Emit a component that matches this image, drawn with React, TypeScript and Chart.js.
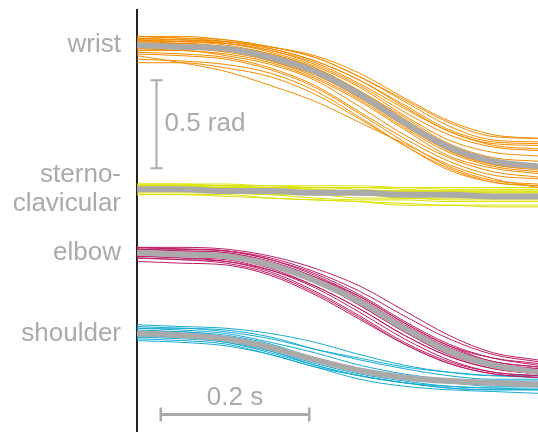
import React, { useEffect, useRef } from "react";
import { Chart, registerables } from "chart.js";

Chart.register(...registerables);

// Sample times (s) shared by every trial
const TIME = [0, 0.06, 0.12, 0.18, 0.24, 0.3, 0.36, 0.42, 0.48, 0.54];

// Joint names on the vertical axis and the angle offset (rad) each joint is drawn at
const JOINT_LABELS: (string | string[])[] = ["wrist", ["sterno-", "clavicular"], "elbow", "shoulder"];
const JOINT_OFFSETS = [0, -0.82, -1.18, -1.64];

// Joint angle change (rad) for each trial
const WRIST_TRIALS = [
  [0.05, 0.05, 0.03, -0.01, -0.07, -0.18, -0.32, -0.46, -0.54, -0.55],
  [0.05, 0.04, 0.02, -0.02, -0.09, -0.2, -0.34, -0.48, -0.55, -0.56],
  [0.04, 0.03, 0.02, -0.02, -0.09, -0.2, -0.35, -0.49, -0.56, -0.57],
  [0.03, 0.03, 0.01, -0.03, -0.11, -0.23, -0.38, -0.51, -0.58, -0.6],
  [0.03, 0.02, 0.01, -0.04, -0.12, -0.24, -0.4, -0.54, -0.61, -0.63],
  [0.02, 0.02, 0, -0.05, -0.13, -0.26, -0.41, -0.56, -0.64, -0.66],
  [0.02, 0.01, -0.01, -0.05, -0.13, -0.26, -0.42, -0.57, -0.65, -0.68],
  [0.01, 0.01, -0.01, -0.06, -0.14, -0.27, -0.43, -0.57, -0.66, -0.69],
  [0.01, 0, -0.02, -0.06, -0.15, -0.28, -0.44, -0.59, -0.67, -0.7],
  [0.01, 0.01, -0.02, -0.07, -0.16, -0.3, -0.45, -0.6, -0.68, -0.7],
  [-0.01, -0.01, -0.03, -0.07, -0.15, -0.27, -0.43, -0.57, -0.65, -0.68],
  [-0.01, -0.02, -0.03, -0.09, -0.17, -0.3, -0.46, -0.6, -0.68, -0.71],
  [-0.02, -0.03, -0.05, -0.1, -0.19, -0.32, -0.48, -0.63, -0.7, -0.73],
  [-0.03, -0.03, -0.06, -0.11, -0.2, -0.35, -0.51, -0.64, -0.72, -0.75],
  [-0.04, -0.05, -0.07, -0.13, -0.23, -0.38, -0.53, -0.66, -0.74, -0.76],
  [-0.05, -0.06, -0.08, -0.14, -0.24, -0.39, -0.55, -0.69, -0.77, -0.79],
  [-0.06, -0.1, -0.15, -0.23, -0.32, -0.44, -0.56, -0.68, -0.76, -0.81],
  [-0.08, -0.09, -0.11, -0.16, -0.26, -0.41, -0.57, -0.7, -0.78, -0.8],
  [-0.1, -0.1, -0.13, -0.18, -0.28, -0.42, -0.57, -0.71, -0.78, -0.8],
  [0.05, 0.04, 0.03, -0.01, -0.06, -0.16, -0.3, -0.43, -0.51, -0.53],
  [0.04, 0.03, 0.02, -0.01, -0.07, -0.18, -0.31, -0.44, -0.52, -0.53],
  [0.03, 0.02, 0.01, -0.03, -0.1, -0.22, -0.36, -0.49, -0.57, -0.59],
  [0, -0.01, -0.02, -0.07, -0.14, -0.27, -0.43, -0.58, -0.66, -0.69],
  [-0.02, -0.02, -0.04, -0.09, -0.18, -0.31, -0.47, -0.61, -0.69, -0.72],
];
const WRIST_MEAN = [0, -0.01, -0.02, -0.07, -0.15, -0.28, -0.44, -0.58, -0.66, -0.69];

const STERNO_TRIALS = [
  [0.03, 0.03, 0.03, 0.02, 0.02, 0.02, 0.01, 0.01, 0.01, 0.01],
  [0.03, 0.03, 0.02, 0.02, 0.01, 0.01, 0, -0.01, -0.01, -0.01],
  [0.02, 0.02, 0.02, 0.01, 0.01, 0, -0.01, -0.01, -0.02, -0.02],
  [0.02, 0.02, 0.01, 0.01, 0, -0.01, -0.01, -0.02, -0.02, -0.02],
  [0.01, 0.01, 0.01, 0, -0.01, -0.01, -0.02, -0.02, -0.03, -0.03],
  [0.01, 0.01, 0, -0.01, -0.01, -0.02, -0.02, -0.03, -0.03, -0.03],
  [0, 0, -0.01, -0.01, -0.02, -0.03, -0.03, -0.04, -0.05, -0.05],
  [-0.01, -0.01, -0.01, -0.02, -0.03, -0.03, -0.05, -0.05, -0.05, -0.05],
  [-0.01, -0.01, -0.02, -0.03, -0.03, -0.05, -0.05, -0.06, -0.06, -0.06],
  [-0.02, -0.02, -0.02, -0.03, -0.05, -0.06, -0.06, -0.07, -0.07, -0.07],
  [-0.03, -0.03, -0.03, -0.05, -0.06, -0.07, -0.08, -0.09, -0.09, -0.09],
  [-0.03, -0.03, -0.04, -0.05, -0.06, -0.07, -0.09, -0.09, -0.1, -0.1],
  [0.01, 0.01, 0.01, 0.01, 0, -0.01, -0.01, -0.01, -0.01, -0.01],
  [0.02, 0.02, 0.02, 0.01, 0.01, 0.01, 0.01, 0, 0, 0],
];
const STERNO_MEAN = [0, 0, -0.01, -0.01, -0.02, -0.02, -0.03, -0.03, -0.04, -0.04];

const ELBOW_TRIALS = [
  [0.03, 0.03, 0.02, -0.02, -0.09, -0.19, -0.33, -0.47, -0.57, -0.61],
  [0.03, 0.02, 0.01, -0.03, -0.11, -0.22, -0.36, -0.49, -0.58, -0.62],
  [0.02, 0.02, 0.01, -0.04, -0.12, -0.24, -0.39, -0.52, -0.6, -0.64],
  [0.02, 0.01, 0, -0.05, -0.14, -0.26, -0.41, -0.54, -0.62, -0.65],
  [0.01, 0, -0.01, -0.06, -0.15, -0.27, -0.42, -0.55, -0.63, -0.66],
  [0.01, 0, -0.01, -0.07, -0.16, -0.29, -0.44, -0.57, -0.65, -0.68],
  [-0.01, -0.02, -0.03, -0.08, -0.17, -0.3, -0.45, -0.58, -0.65, -0.68],
  [-0.01, -0.02, -0.03, -0.09, -0.19, -0.32, -0.47, -0.59, -0.66, -0.69],
  [-0.02, -0.03, -0.04, -0.1, -0.2, -0.34, -0.49, -0.61, -0.68, -0.7],
  [-0.02, -0.03, -0.05, -0.11, -0.22, -0.36, -0.51, -0.62, -0.68, -0.7],
  [-0.03, -0.04, -0.06, -0.12, -0.23, -0.37, -0.52, -0.63, -0.69, -0.71],
  [-0.05, -0.06, -0.07, -0.13, -0.24, -0.38, -0.52, -0.63, -0.69, -0.71],
  [0.02, 0.01, 0, -0.06, -0.16, -0.3, -0.45, -0.57, -0.64, -0.66],
  [0, -0.01, -0.02, -0.06, -0.14, -0.25, -0.4, -0.53, -0.62, -0.65],
  [-0.03, -0.04, -0.05, -0.1, -0.19, -0.32, -0.47, -0.59, -0.66, -0.69],
  [0.03, 0.02, 0.01, -0.04, -0.13, -0.25, -0.4, -0.53, -0.6, -0.63],
];
const ELBOW_MEAN = [0, -0.01, -0.02, -0.07, -0.16, -0.28, -0.43, -0.56, -0.64, -0.68];

const SHOULDER_TRIALS = [
  [0.05, 0.04, 0.03, 0, -0.05, -0.12, -0.18, -0.22, -0.24, -0.24],
  [0.04, 0.03, 0.02, -0.02, -0.09, -0.15, -0.2, -0.24, -0.26, -0.26],
  [0.03, 0.02, 0, -0.05, -0.11, -0.18, -0.23, -0.26, -0.27, -0.27],
  [0.02, 0.01, -0.01, -0.06, -0.14, -0.2, -0.24, -0.27, -0.28, -0.28],
  [0.01, 0, -0.02, -0.07, -0.15, -0.21, -0.25, -0.27, -0.28, -0.28],
  [-0.01, -0.01, -0.03, -0.09, -0.16, -0.22, -0.26, -0.28, -0.3, -0.3],
  [-0.01, -0.02, -0.04, -0.1, -0.17, -0.23, -0.27, -0.3, -0.31, -0.31],
  [-0.02, -0.03, -0.05, -0.11, -0.18, -0.24, -0.28, -0.31, -0.32, -0.32],
  [-0.03, -0.04, -0.06, -0.12, -0.19, -0.26, -0.3, -0.32, -0.33, -0.34],
  [-0.04, -0.05, -0.07, -0.12, -0.19, -0.24, -0.28, -0.31, -0.32, -0.32],
  [0.01, 0.01, -0.02, -0.07, -0.14, -0.2, -0.24, -0.27, -0.28, -0.28],
  [0, -0.01, -0.03, -0.08, -0.15, -0.22, -0.26, -0.28, -0.29, -0.3],
  [0.03, 0.03, 0.01, -0.03, -0.09, -0.14, -0.19, -0.22, -0.24, -0.25],
  [-0.02, -0.02, -0.05, -0.1, -0.18, -0.24, -0.28, -0.3, -0.31, -0.32],
];
const SHOULDER_MEAN = [0, -0.01, -0.03, -0.08, -0.15, -0.21, -0.25, -0.27, -0.28, -0.29];

// Scale bar sizes
const BAR_RAD = 0.5;
const BAR_SEC = 0.2;

const GROUPS = [
  { trials: WRIST_TRIALS, mean: WRIST_MEAN, color: "#f28c00" },
  { trials: STERNO_TRIALS, mean: STERNO_MEAN, color: "#dbe100" },
  { trials: ELBOW_TRIALS, mean: ELBOW_MEAN, color: "#bd1f66" },
  { trials: SHOULDER_TRIALS, mean: SHOULDER_MEAN, color: "#17abd4" },
];

const GRAY = "#aaaaaa";
const FONT = '"Liberation Sans", Arial, Helvetica, sans-serif';

const toPoints = (values: number[], offset: number) =>
  TIME.map((t, i) => ({ x: t, y: offset + values[i] }));

const scaleBars = {
  id: "scaleBars",
  afterDatasetsDraw(chart: any) {
    const { ctx, scales } = chart;
    const xs = scales.x;
    const ys = scales.y;
    ctx.save();
    ctx.strokeStyle = GRAY;
    ctx.fillStyle = GRAY;
    ctx.font = `26px ${FONT}`;

    // vertical bar: 0.5 rad
    const vx = Math.round(xs.getPixelForValue(0.025)) + 0.5;
    const vTop = ys.getPixelForValue(-0.2);
    const vBot = ys.getPixelForValue(-0.2 - BAR_RAD);
    ctx.lineWidth = 2;
    ctx.beginPath();
    ctx.moveTo(vx, vTop);
    ctx.lineTo(vx, vBot);
    ctx.moveTo(vx - 6, vTop);
    ctx.lineTo(vx + 6, vTop);
    ctx.moveTo(vx - 6, vBot);
    ctx.lineTo(vx + 6, vBot);
    ctx.stroke();
    ctx.textAlign = "left";
    ctx.textBaseline = "middle";
    ctx.fillText(`${BAR_RAD} rad`, vx + 8, (vTop + vBot) / 2);

    // horizontal bar: 0.2 s
    const hy = Math.round(ys.getPixelForValue(-2.1)) + 0.5;
    const hL = xs.getPixelForValue(0.032);
    const hR = xs.getPixelForValue(0.032 + BAR_SEC);
    ctx.lineWidth = 3;
    ctx.beginPath();
    ctx.moveTo(hL, hy);
    ctx.lineTo(hR, hy);
    ctx.stroke();
    ctx.lineWidth = 2.5;
    ctx.beginPath();
    ctx.moveTo(hL, hy - 7);
    ctx.lineTo(hL, hy + 7);
    ctx.moveTo(hR, hy - 7);
    ctx.lineTo(hR, hy + 7);
    ctx.stroke();
    ctx.textAlign = "center";
    ctx.textBaseline = "alphabetic";
    ctx.fillText(`${BAR_SEC} s`, (hL + hR) / 2, hy - 10);
    ctx.restore();
  },
};

export default function App() {
  const canvasRef = useRef<HTMLCanvasElement | null>(null);

  useEffect(() => {
    if (!canvasRef.current) return;
    const datasets: any[] = [];
    GROUPS.forEach((g, gi) => {
      const offset = JOINT_OFFSETS[gi];
      g.trials.forEach((tr) => {
        datasets.push({
          data: toPoints(tr, offset),
          borderColor: g.color,
          borderWidth: 1,
          pointRadius: 0,
          cubicInterpolationMode: "monotone",
          order: 2,
        });
      });
      datasets.push({
        data: toPoints(g.mean, offset),
        borderColor: GRAY,
        borderWidth: 6,
        pointRadius: 0,
        cubicInterpolationMode: "monotone",
        order: 1,
      });
    });

    const chart = new Chart(canvasRef.current, {
      type: "line",
      data: { datasets },
      options: {
        animation: false,
        responsive: false,
        devicePixelRatio: 1,
        layout: { padding: { top: 10, right: 0, bottom: 0, left: 0 } },
        plugins: { legend: { display: false }, tooltip: { enabled: false } },
        scales: {
          x: { type: "linear", min: 0, max: 0.54, display: false },
          y: {
            type: "linear",
            min: -2.2,
            max: 0.2,
            afterFit: (scale: any) => {
              scale.width = 137;
              scale.paddingTop = 0;
              scale.paddingBottom = 0;
            },
            afterBuildTicks: (scale: any) => {
              scale.ticks = JOINT_OFFSETS.map((v) => ({ value: v }));
            },
            grid: { display: false, drawTicks: false },
            border: { display: true, color: "#222222", width: 2 },
            ticks: {
              autoSkip: false,
              padding: 16,
              color: GRAY,
              font: { family: FONT, size: 26, lineHeight: 1.15 },
              callback: (value: any) => {
                const i = JOINT_OFFSETS.indexOf(Number(value));
                return i >= 0 ? JOINT_LABELS[i] : "";
              },
            },
          },
        },
      },
      plugins: [scaleBars],
    });
    return () => chart.destroy();
  }, []);

  return (
    <div style={{ position: "fixed", left: 0, top: 0, width: 538, height: 432, background: "#fff" }}>
      <canvas ref={canvasRef} width={538} height={432} style={{ display: "block" }} />
    </div>
  );
}
